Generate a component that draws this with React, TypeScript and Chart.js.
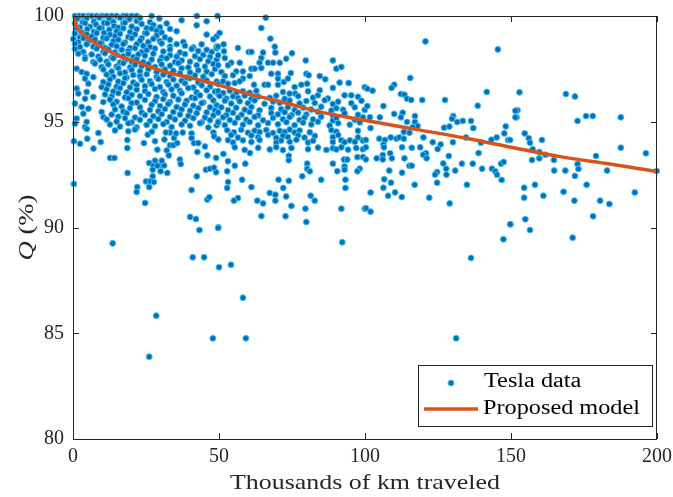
import { useEffect, useRef } from "react";
import { Chart, registerables } from "chart.js";

Chart.register(...registerables);

// Axis ticks and labels
const xTicks = [0, 50, 100, 150, 200];
const yTicks = [80, 85, 90, 95, 100];
const xTitle = "Thousands of km traveled";
const yTitleSymbol = "Q";
const yTitleUnit = " (%)";
const legendLabels = ["Tesla data", "Proposed model"];

// Proposed capacity-fade model: Q (%) vs thousands of km
const modelKm = [0, 1, 2.5, 4.7, 10.4, 16.1, 21.8, 27.5, 33.2, 38.9, 44.6, 50.3, 61.1, 72.5, 83.9, 95.3, 100.3, 117.5, 134.6, 151.7, 166.8, 183.9, 200];
const modelQ = [100, 99.55, 99.28, 99.0, 98.49, 98.09, 97.83, 97.54, 97.3, 97.12, 96.93, 96.72, 96.28, 95.9, 95.49, 95.18, 95.06, 94.64, 94.22, 93.75, 93.35, 93.0, 92.65];

// Tesla fleet measurements [thousands of km, Q (%)], grouped by mileage
const tesla0to50: [number, number][] = [
  [0.68, 100], [2.17, 100], [3.54, 100], [5.25, 100], [6.39, 100], [8.1, 100], [9.81, 100], [11.53, 100], [13.24, 100], [14.95, 100],
  [17.23, 100], [18.38, 100], [20.09, 100], [21.8, 100], [26.94, 100], [37.2, 99.8], [42.4, 100], [49.5, 100],
  [1.48, 99.88], [3.31, 99.7], [4.68, 99.9], [7.19, 99.74], [9.02, 99.93], [10.61, 99.68], [12.44, 99.86], [13.81, 99.72], [16.09, 99.92],
  [17.23, 99.66], [19.29, 99.85], [21.8, 99.76], [22.94, 99.91], [26.37, 99.71], [29.56, 99.88],
  [0.68, 99.64], [2.39, 99.46], [4.11, 99.67], [5.82, 99.49], [7.87, 99.6], [9.81, 99.43], [11.76, 99.66], [14.04, 99.53], [15.52, 99.45],
  [17.81, 99.69], [20.09, 99.5], [23.51, 99.62], [25.23, 99.42], [27.51, 99.58], [29.79, 99.47], [32.07, 99.65], [42.35, 99.56], [45.77, 99.75],
  [1.25, 99.41], [2.97, 99.22], [4.91, 99.38], [7.19, 99.25], [9.02, 99.43], [10.61, 99.2], [12.44, 99.35], [14.95, 99.28], [17.23, 99.42],
  [19.52, 99.24], [21.8, 99.37], [24.65, 99.19], [26.94, 99.41], [28.65, 99.3], [30.36, 99.22], [33.22, 99.39], [35.5, 99.28],
  [0.68, 99.17], [2.39, 98.99], [4.68, 99.14], [6.39, 99.03], [8.1, 99.19], [10.39, 98.97], [12.67, 99.12], [14.38, 99.05], [16.09, 99.16],
  [18.95, 99.01], [21.23, 99.13], [23.51, 98.95], [25.23, 99.18], [28.65, 99.07], [31.5, 98.99], [45.77, 99.12], [49.2, 99.03],
  [0.11, 98.91], [1.82, 98.76], [3.54, 98.95], [5.25, 98.78], [7.53, 98.89], [9.81, 98.73], [11.53, 98.94], [13.81, 98.81], [15.52, 98.88],
  [17.81, 98.75], [20.09, 98.95], [22.94, 98.83], [25.8, 98.77], [27.51, 98.92], [29.79, 98.81], [33.22, 98.88], [37.78, 98.77], [48.06, 98.9],
  [0.68, 98.69], [2.39, 98.53], [4.68, 98.66], [6.96, 98.55], [9.24, 98.71], [10.96, 98.5], [13.24, 98.64], [14.95, 98.57], [17.23, 98.68],
  [19.52, 98.49], [21.8, 98.66], [24.08, 98.59], [26.37, 98.53], [30.36, 98.7], [33.22, 98.55], [35.5, 98.67], [38.35, 98.59], [41.21, 98.51],
  [44.06, 98.66], [49.2, 98.56],
  [0.68, 98.44], [3.54, 98.3], [8.1, 98.46], [10.39, 98.31], [12.1, 98.42], [14.38, 98.28], [16.66, 98.4], [18.95, 98.34], [21.23, 98.48],
  [23.51, 98.29], [25.23, 98.38], [28.08, 98.46], [30.93, 98.32], [33.22, 98.42], [36.64, 98.28], [40.64, 98.44], [42.92, 98.34], [45.77, 98.4],
  [47.49, 98.3], [49.2, 98.47],
  [1.82, 98.22], [4.11, 98.06], [6.39, 98.18], [8.67, 98.08], [10.96, 98.24], [13.24, 98.04], [14.95, 98.16], [17.23, 98.1], [18.95, 98.2],
  [20.66, 98.06], [22.37, 98.18], [24.65, 98.12], [27.51, 98.22], [30.36, 98.04], [33.22, 98.14], [35.5, 98.08], [38.35, 98.2], [41.78, 98.1],
  [44.63, 98.16], [46.92, 98.06],
  [4.11, 97.98], [6.96, 97.82], [9.24, 97.94], [11.53, 97.84], [13.81, 98.0], [16.09, 97.8], [17.81, 97.92], [20.09, 97.86], [21.8, 97.96],
  [24.08, 97.82], [26.94, 97.94], [29.79, 97.88], [32.07, 98.0], [34.93, 97.82], [37.21, 97.9], [40.07, 97.84], [43.49, 97.96], [46.34, 97.86],
  [49.2, 97.94],
  [7.53, 97.75], [9.81, 97.59], [12.1, 97.71], [14.95, 97.61], [17.23, 97.77], [19.52, 97.57], [21.23, 97.69], [23.51, 97.63], [25.8, 97.73],
  [28.08, 97.59], [30.36, 97.71], [33.22, 97.65], [36.07, 97.77], [39.5, 97.57], [42.35, 97.67], [45.2, 97.61], [48.06, 97.73],
  [1.25, 97.51], [2.97, 97.35], [10.39, 97.47], [13.24, 97.37], [15.52, 97.53], [17.81, 97.33], [20.09, 97.45], [22.94, 97.39], [25.8, 97.49],
  [28.65, 97.35], [31.5, 97.47], [34.36, 97.41], [37.21, 97.53], [40.07, 97.33], [42.92, 97.43], [45.77, 97.37], [48.63, 97.49],
  [4.68, 97.27], [6.96, 97.11], [11.53, 97.23], [13.81, 97.13], [16.09, 97.29], [18.38, 97.09], [20.66, 97.21], [22.94, 97.15], [25.23, 97.25],
  [28.65, 97.11], [30.93, 97.23], [33.22, 97.17], [36.64, 97.29], [38.92, 97.09], [41.78, 97.19], [44.63, 97.13], [47.49, 97.25],
  [4.11, 97.04], [10.39, 96.88], [12.67, 97.0], [15.52, 96.9], [17.81, 97.06], [20.66, 96.86], [23.51, 96.98], [26.37, 96.92], [29.22, 97.02],
  [32.07, 96.88], [34.36, 97.0], [37.21, 96.94], [40.07, 97.06], [42.92, 96.86], [45.77, 96.96], [49.2, 96.9],
  [5.25, 96.8], [9.81, 96.64], [12.1, 96.76], [14.95, 96.66], [17.23, 96.82], [19.52, 96.62], [21.8, 96.74], [24.65, 96.68], [26.94, 96.78],
  [29.79, 96.64], [32.65, 96.76], [35.5, 96.7], [38.35, 96.82], [41.21, 96.62], [44.06, 96.72], [46.92, 96.66], [49.77, 96.78],
  [1.25, 96.57], [4.68, 96.41], [11.53, 96.53], [13.81, 96.43], [16.09, 96.59], [18.38, 96.39], [21.8, 96.51], [24.65, 96.45], [28.08, 96.55],
  [30.93, 96.41], [33.79, 96.53], [36.64, 96.47], [39.5, 96.59], [42.35, 96.39], [45.77, 96.49], [48.63, 96.43],
  [1.82, 96.33], [6.96, 96.17], [10.96, 96.29], [13.24, 96.19], [15.52, 96.35], [17.81, 96.15], [20.09, 96.27], [22.94, 96.21], [25.8, 96.31],
  [28.65, 96.17], [31.5, 96.29], [34.36, 96.23], [37.21, 96.35], [40.64, 96.15], [43.49, 96.25], [46.92, 96.19], [49.77, 96.31],
  [4.11, 96.09], [10.39, 95.93], [12.67, 96.05], [14.95, 95.95], [18.95, 96.11], [21.8, 95.91], [24.65, 96.03], [28.08, 95.97], [30.93, 96.07],
  [33.22, 95.93], [36.07, 96.05], [38.92, 95.99], [41.78, 96.11], [44.63, 95.91], [48.06, 96.01],
  [0.68, 95.86], [2.97, 95.7], [13.81, 95.82], [16.66, 95.72], [20.09, 95.88], [22.94, 95.68], [26.94, 95.8], [29.79, 95.74], [32.65, 95.84],
  [35.5, 95.7], [38.35, 95.82], [41.21, 95.76], [44.06, 95.88], [46.92, 95.68], [49.2, 95.78],
  [5.25, 95.62], [9.81, 95.46], [14.38, 95.58], [17.23, 95.48], [19.52, 95.64], [23.51, 95.44], [26.37, 95.56], [29.22, 95.5], [31.5, 95.6],
  [34.36, 95.46], [37.21, 95.58], [40.07, 95.52], [42.92, 95.64], [45.77, 95.44], [48.63, 95.54],
  [3.54, 95.38], [10.39, 95.22], [13.24, 95.34], [15.52, 95.24], [18.38, 95.4], [21.23, 95.2], [24.65, 95.32], [27.51, 95.26], [30.36, 95.36],
  [33.22, 95.22], [36.64, 95.34], [39.5, 95.28], [42.35, 95.4], [45.2, 95.2], [48.06, 95.3],
  [1.25, 95.15], [4.68, 94.99], [11.53, 95.11], [14.95, 95.01], [17.81, 95.17], [20.09, 94.97], [22.94, 95.09], [26.37, 95.03], [29.22, 95.13],
  [32.07, 94.99], [34.93, 95.11], [38.35, 95.05], [41.21, 95.17], [44.06, 94.97], [46.92, 95.07], [49.77, 95.01],
  [0.68, 94.91], [4.11, 94.75], [12.67, 94.87], [16.09, 94.77], [18.95, 94.93], [21.8, 94.73], [25.23, 94.85], [28.08, 94.79], [30.93, 94.89],
  [33.79, 94.75], [37.21, 94.87], [40.07, 94.81], [43.49, 94.93], [46.34, 94.73], [49.2, 94.83],
  [14.38, 94.59], [18.95, 94.55], [21.23, 94.63],
  [4.7, 94.66], [8.7, 94.47], [0.3, 94.08], [2.4, 93.96], [4.9, 94.2], [9.5, 94.04], [7.0, 93.73], [12.7, 93.29], [14.2, 93.29],
  [18.6, 94.14], [18.6, 93.76], [24.3, 93.99], [25.6, 94.39], [27.0, 94.53], [28.1, 94.08], [28.9, 93.68], [31.3, 94.16], [32.1, 93.64],
  [32.8, 93.41], [33.2, 93.89], [34.4, 93.89], [35.7, 93.99], [34.6, 94.23], [33.2, 94.49], [35.3, 94.45], [31.8, 94.49], [37.6, 94.49],
  [40.6, 94.45], [40.6, 94.23], [41.4, 93.99], [42.9, 93.99], [45.2, 93.83], [48.1, 94.49], [48.3, 94.31], [49.8, 94.16], [42.6, 93.57],
  [46.0, 93.41], [49.0, 93.29], [26.1, 93.05], [28.1, 93.16], [29.6, 92.94], [27.5, 92.92], [28.9, 92.92], [31.2, 92.93], [30.4, 93.16],
  [27.3, 92.73], [30.0, 92.66], [32.3, 92.58], [36.6, 93.21], [36.9, 93.0], [18.7, 92.58], [27.3, 92.42], [25.0, 92.18], [26.4, 92.18],
  [27.7, 92.15], [26.1, 91.91], [22.0, 91.91], [21.8, 91.68], [24.7, 91.16], [0.3, 92.06], [42.4, 92.42], [40.6, 91.77], [45.5, 92.73],
  [46.9, 92.78], [49.0, 92.61], [48.3, 92.83], [46.0, 91.32], [46.7, 91.43], [40.1, 90.5], [42.1, 90.4], [43.3, 89.88], [49.8, 90.01],
  [13.6, 89.25], [41.0, 88.59], [44.9, 88.59], [47.9, 84.76], [28.5, 85.83], [26.1, 83.89],
];

const tesla50to100: [number, number][] = [
  [50.0, 88.12], [54.1, 88.24], [58.2, 86.68], [59.2, 84.76],
  [66.0, 99.92], [64.5, 99.43], [50.2, 99.2], [67.6, 98.93], [51.6, 98.66], [49.7, 98.55], [56.5, 98.49], [69.1, 98.55], [60.2, 98.3],
  [61.1, 98.3], [65.1, 98.27], [69.3, 98.27], [75.0, 98.24], [51.7, 98.33], [64.5, 98.01], [73.0, 97.98], [79.7, 97.9], [89.0, 97.9],
  [49.7, 98.14], [52.0, 98.01], [54.2, 97.79], [57.1, 97.79], [63.9, 97.79], [66.8, 97.79], [68.5, 97.79], [70.8, 97.79], [49.7, 97.67],
  [53.1, 97.67], [90.2, 97.51], [91.9, 97.59], [61.1, 97.51], [62.2, 97.51], [55.9, 97.38], [58.2, 97.38], [64.5, 97.54], [67.9, 97.27],
  [70.2, 97.27], [74.6, 97.3], [79.9, 97.27], [80.7, 97.2], [84.5, 97.16], [86.4, 97.01], [50.8, 97.35], [52.0, 97.16], [54.8, 97.2],
  [58.2, 97.04], [60.5, 97.16], [70.2, 97.04], [72.2, 96.88], [73.6, 97.04], [78.2, 96.75], [80.2, 96.8], [65.6, 96.75], [66.8, 96.75],
  [70.2, 96.75], [75.9, 96.64], [84.5, 96.49], [89.0, 96.6], [91.3, 96.85], [94.4, 96.83], [93.0, 96.25], [95.3, 96.25], [99.9, 96.63],
  [51.4, 96.91], [53.1, 96.8], [55.4, 96.83], [57.1, 96.91], [62.0, 96.75], [80.5, 96.44], [71.9, 96.41], [74.2, 96.33], [76.1, 96.33],
  [49.7, 96.45], [51.4, 96.36], [53.7, 96.47], [55.9, 96.34], [58.2, 96.44], [60.5, 96.37], [62.8, 96.46],
  [50.2, 96.22], [52.5, 96.1], [54.8, 96.2], [56.5, 96.12], [58.8, 96.24], [61.1, 96.08], [63.4, 96.19], [67.4, 96.13], [69.6, 96.23],
  [72.5, 96.09], [77.1, 96.21], [82.2, 96.14], [83.9, 96.25], [87.3, 96.1], [97.6, 96.18],
  [52.0, 95.99], [54.2, 95.86], [57.1, 95.97], [59.9, 95.88], [62.2, 96.01], [65.6, 95.85], [68.5, 95.96], [70.8, 95.9], [74.2, 96.0],
  [77.6, 95.86], [79.9, 95.98], [82.8, 95.89], [86.2, 96.02], [89.0, 95.84], [90.8, 95.95], [95.3, 95.88], [98.8, 95.99],
  [50.8, 95.68], [53.1, 95.55], [55.9, 95.66], [58.8, 95.57], [61.1, 95.7], [63.9, 95.54], [67.9, 95.65], [71.3, 95.59], [73.6, 95.69],
  [75.9, 95.55], [78.8, 95.67], [81.6, 95.58], [85.0, 95.71], [88.5, 95.53], [90.2, 95.64], [92.5, 95.57], [96.5, 95.68], [99.9, 95.56],
  [49.7, 95.44], [52.5, 95.31], [54.8, 95.42], [57.7, 95.33], [60.5, 95.46], [63.4, 95.3], [67.9, 95.41], [70.2, 95.35], [72.5, 95.45],
  [74.8, 95.31], [77.1, 95.43], [79.9, 95.34], [83.9, 95.47], [89.0, 95.29], [93.0, 95.4], [97.6, 95.33],
  [51.4, 95.21], [53.7, 95.08], [56.5, 95.19], [59.4, 95.1], [62.2, 95.23], [65.1, 95.07], [68.5, 95.18], [71.9, 95.12], [74.2, 95.22],
  [77.6, 95.08], [79.3, 95.2], [82.2, 95.11], [85.0, 95.24], [89.0, 95.06], [90.2, 95.17], [96.5, 95.1], [99.3, 95.21],
  [49.7, 94.97], [52.0, 94.84], [55.4, 94.95], [58.2, 94.86], [60.5, 94.99], [63.4, 94.83], [66.8, 94.94], [70.2, 94.88], [73.1, 94.98],
  [75.9, 94.84], [78.8, 94.96], [81.6, 94.87], [83.9, 95.0], [87.9, 94.82], [90.8, 94.93], [94.8, 94.86], [98.2, 94.97],
  [52.8, 94.6], [55.1, 94.5], [57.6, 94.62], [59.9, 94.48], [62.2, 94.58], [63.9, 94.51], [66.2, 94.61], [68.5, 94.47], [70.8, 94.57],
  [72.5, 94.52], [74.2, 94.63], [75.9, 94.49], [77.6, 94.59], [81.1, 94.5], [88.5, 94.6], [90.2, 94.53], [97.6, 94.57],
  [54.2, 94.37], [56.5, 94.25], [61.1, 94.35], [63.4, 94.27], [66.8, 94.38], [69.6, 94.24], [71.9, 94.34], [73.6, 94.28], [77.1, 94.36],
  [79.3, 94.25], [82.8, 94.33], [89.0, 94.27], [90.8, 94.37], [97.6, 94.26],
  [53.1, 94.13], [54.8, 94.02], [58.2, 94.12], [61.1, 94.04], [63.9, 94.14], [69.6, 94.01], [71.3, 94.11], [74.2, 94.05], [76.5, 94.15],
  [80.5, 94.02], [82.2, 94.1], [89.0, 94.04], [91.9, 94.13], [93.0, 94.03], [94.8, 94.12], [96.5, 94.05], [99.3, 94.11],
  [55.4, 93.79], [58.8, 93.67], [63.4, 93.77], [67.4, 93.69], [69.6, 93.8], [71.9, 93.66], [74.8, 93.76], [80.5, 93.7], [83.9, 93.78],
  [86.8, 93.67], [89.0, 93.75], [90.2, 93.69], [91.9, 93.79], [94.2, 93.68], [97.0, 93.76], [99.3, 93.7],
  [60.6, 93.52], [51.5, 93.48], [73.9, 93.39], [73.9, 93.18], [53.1, 93.13], [59.0, 93.02], [55.4, 92.92], [80.2, 93.02], [89.0, 93.02],
  [92.8, 93.21], [93.9, 93.21], [97.4, 93.33], [99.3, 93.33], [80.2, 92.78], [81.1, 92.66], [52.8, 92.66], [90.5, 92.66], [93.0, 92.89],
  [93.0, 92.73], [98.2, 92.78], [97.4, 92.66], [57.9, 92.26], [70.4, 92.26], [73.9, 92.21], [78.5, 92.42], [85.0, 92.26], [93.3, 92.26],
  [53.1, 92.15], [52.8, 91.87], [61.1, 91.91], [72.0, 91.87], [93.3, 91.87], [67.4, 91.63], [69.3, 91.55], [73.0, 91.47], [81.4, 91.5],
  [82.8, 91.27], [56.5, 91.39], [55.1, 91.27], [63.1, 91.27], [65.1, 91.14], [69.3, 91.27], [74.8, 91.02], [79.6, 90.89], [91.9, 90.89],
  [99.9, 90.89], [64.5, 90.54], [72.8, 90.53], [79.9, 90.26], [49.7, 89.98], [92.2, 89.3],
];

const tesla100to150: [number, number][] = [
  [120.7, 98.8], [145.5, 98.42], [115.5, 97.07], [110.0, 96.75], [109.1, 96.6], [100.8, 96.56], [102.6, 96.47], [112.3, 96.31],
  [113.5, 96.28], [114.4, 96.09], [115.8, 96.03], [119.6, 96.03], [127.4, 96.03], [141.7, 96.41], [100.8, 95.74], [106.3, 95.74],
  [138.6, 95.76], [110.0, 95.37], [112.9, 95.43], [112.3, 95.21], [117.1, 95.27], [130.2, 95.27], [129.8, 95.14], [101.7, 95.21],
  [105.1, 95.21], [114.4, 94.99], [117.1, 94.99], [118.0, 94.8], [131.6, 94.99], [133.5, 95.04], [136.3, 95.04], [137.1, 94.7],
  [148.2, 94.78], [147.7, 94.45], [145.1, 94.26], [143.3, 94.15], [149.0, 94.14], [127.1, 94.72], [128.9, 94.77], [101.9, 94.7],
  [116.3, 94.74], [115.2, 94.48], [113.3, 94.52], [104.9, 94.2], [106.8, 94.14], [108.8, 94.26], [110.8, 94.2], [111.8, 94.26],
  [113.3, 94.2], [120.0, 94.26], [123.2, 94.03], [125.9, 93.93], [130.1, 94.03], [134.6, 94.26], [139.7, 94.01], [100.3, 94.14],
  [106.3, 93.92], [106.5, 93.79], [112.7, 93.79], [116.0, 93.77], [118.9, 93.79], [124.9, 93.71], [100.3, 93.79], [108.6, 93.51],
  [106.1, 93.43], [120.9, 93.51], [119.9, 93.44], [138.9, 93.52], [104.0, 93.27], [106.1, 93.22], [109.2, 93.27], [113.5, 93.27],
  [121.1, 93.27], [128.7, 93.38], [100.3, 93.22], [115.2, 92.92], [116.0, 92.92], [126.8, 93.03], [133.2, 93.02], [136.9, 93.02],
  [146.6, 93.02], [147.5, 93.1], [127.8, 92.78], [130.9, 92.69], [140.1, 92.78], [143.5, 92.78], [144.6, 92.66], [108.3, 92.69],
  [112.7, 92.59], [124.7, 92.62], [124.0, 92.5], [127.9, 92.5], [145.2, 92.5], [146.8, 92.25], [106.6, 92.28], [108.9, 92.12],
  [124.7, 92.12], [117.0, 92.02], [134.9, 92.02], [106.3, 91.88], [110.3, 91.66], [101.9, 91.65], [107.9, 91.5], [112.6, 91.44],
  [122.0, 91.41], [129.0, 91.14], [100.3, 90.91], [101.9, 90.75], [149.9, 90.15], [147.4, 89.44], [136.3, 88.56], [131.2, 84.76],
];

const tesla150to200: [number, number][] = [
  [152.9, 96.39], [168.8, 96.31], [171.9, 96.19], [152.2, 95.54], [151.9, 95.21], [151.5, 95.52], [151.5, 95.21], [172.8, 95.04],
  [175.7, 95.27], [178.0, 95.27], [187.6, 95.21], [154.7, 94.45], [156.1, 94.22], [156.5, 94.01], [160.6, 94.14], [157.4, 93.7],
  [159.7, 93.57], [161.8, 93.44], [157.2, 93.19], [159.7, 93.27], [164.7, 93.19], [149.7, 94.14], [179.1, 93.38], [187.6, 93.77],
  [196.2, 93.51], [199.9, 92.67], [172.8, 93.0], [173.1, 92.77], [171.9, 92.44], [164.8, 92.69], [168.6, 92.69], [182.9, 92.69],
  [175.9, 92.02], [154.5, 91.88], [158.2, 92.02], [154.5, 91.41], [161.1, 91.5], [168.0, 91.69], [171.7, 91.27], [180.5, 91.27],
  [183.7, 91.11], [192.4, 91.66], [178.1, 90.53], [154.9, 90.39], [149.7, 90.15], [156.5, 89.88], [171.1, 89.52],
];

const teslaPoints = [...tesla0to50, ...tesla50to100, ...tesla100to150, ...tesla150to200];

const AXIS_COLOR = "#262626";
const DOT_FILL = "#0072BD";
const DOT_EDGE = "#4DBEEE";
const MODEL_COLOR = "#D95319";
const SERIF = "'Liberation Serif', 'Times New Roman', serif";

// Draws text with a horizontal stretch so the Times-like face gets the width of a TeX face.
function drawWide(ctx: CanvasRenderingContext2D, text: string, x: number, y: number, font: string, width: number | null, stretch: number, align: "left" | "center") {
  ctx.save();
  ctx.font = font;
  const natural = ctx.measureText(text).width;
  const sx = width ? width / natural : stretch;
  ctx.translate(x, y);
  ctx.scale(sx, 1);
  ctx.textAlign = align;
  ctx.textBaseline = "middle";
  ctx.fillText(text, 0, 0);
  ctx.restore();
  return natural * sx;
}

const framePlugin = {
  id: "matlabFrame",
  afterDraw(chart: any) {
    const { ctx, chartArea } = chart;
    const { left, right, top, bottom } = chartArea;
    const xs = chart.scales.x;
    const ys = chart.scales.y;
    ctx.save();
    ctx.strokeStyle = AXIS_COLOR;
    ctx.lineWidth = 1;
    ctx.strokeRect(left + 0.5, top + 0.5, right - left - 1, bottom - top);
    const tl = 6;
    ctx.beginPath();
    xTicks.forEach((v) => {
      const px = Math.round(xs.getPixelForValue(v)) + 0.5;
      ctx.moveTo(px, bottom); ctx.lineTo(px, bottom - tl);
      ctx.moveTo(px, top); ctx.lineTo(px, top + tl);
    });
    yTicks.forEach((v) => {
      const py = Math.round(ys.getPixelForValue(v)) + 0.5;
      ctx.moveTo(left, py); ctx.lineTo(left + tl, py);
      ctx.moveTo(right, py); ctx.lineTo(right - tl, py);
    });
    ctx.stroke();

    // legend
    const lx = 418.5, ly = 365.5, lw = 234, lh = 61;
    ctx.fillStyle = "#ffffff";
    ctx.fillRect(lx, ly, lw, lh);
    ctx.strokeRect(lx, ly, lw, lh);
    ctx.beginPath();
    ctx.arc(451, 383, 3, 0, Math.PI * 2);
    ctx.fillStyle = DOT_FILL;
    ctx.fill();
    ctx.strokeStyle = DOT_EDGE;
    ctx.stroke();
    ctx.beginPath();
    ctx.strokeStyle = MODEL_COLOR;
    ctx.lineWidth = 3.5;
    ctx.moveTo(424, 409);
    ctx.lineTo(478, 409);
    ctx.stroke();
    ctx.fillStyle = "#000000";
    const legendFont = `20px ${SERIF}`;
    ctx.font = legendFont;
    const stretch = 157 / ctx.measureText(legendLabels[1]).width;
    drawWide(ctx, legendLabels[0], 484, 382, legendFont, null, stretch, "left");
    drawWide(ctx, legendLabels[1], 483, 409, legendFont, null, stretch, "left");

    // axis titles
    ctx.fillStyle = AXIS_COLOR;
    drawWide(ctx, xTitle, (left + right) / 2, 483, `22px ${SERIF}`, 270, 1, "center");

    ctx.save();
    ctx.translate(27, (top + bottom) / 2);
    ctx.rotate(-Math.PI / 2);
    ctx.scale(stretch, 1);
    const symFont = `italic 22px ${SERIF}`;
    const unitFont = `22px ${SERIF}`;
    ctx.font = symFont;
    const w1 = ctx.measureText(yTitleSymbol).width;
    ctx.font = unitFont;
    const w2 = ctx.measureText(yTitleUnit).width;
    const start = -(w1 + w2) / 2;
    ctx.textBaseline = "middle";
    ctx.textAlign = "left";
    ctx.font = symFont;
    ctx.fillText(yTitleSymbol, start, 0);
    ctx.font = unitFont;
    ctx.fillText(yTitleUnit, start + w1, 0);
    ctx.restore();
    ctx.restore();
  },
};

export default function App() {
  const canvasRef = useRef<HTMLCanvasElement | null>(null);

  useEffect(() => {
    const canvas = canvasRef.current;
    if (!canvas) return;
    const tickFont = { family: SERIF, size: 20 };
    const chart = new Chart(canvas, {
      type: "scatter",
      data: {
        datasets: [
          {
            type: "line",
            label: legendLabels[1],
            data: modelKm.map((x, i) => ({ x, y: modelQ[i] })),
            borderColor: MODEL_COLOR,
            borderWidth: 3.5,
            pointRadius: 0,
            fill: false,
            cubicInterpolationMode: "monotone",
            order: 0,
          } as any,
          {
            type: "scatter",
            label: legendLabels[0],
            data: teslaPoints.map(([x, y]) => ({ x, y })),
            backgroundColor: DOT_FILL,
            borderColor: DOT_EDGE,
            borderWidth: 1,
            pointRadius: 3,
            clip: false,
            order: 1,
          } as any,
        ],
      },
      options: {
        animation: false,
        responsive: false,
        devicePixelRatio: 1,
        layout: { padding: { top: 16, right: 16, left: 0, bottom: 0 } },
        plugins: { legend: { display: false }, tooltip: { enabled: false } },
        scales: {
          x: {
            type: "linear",
            min: 0,
            max: 200,
            afterBuildTicks: (s: any) => { s.ticks = xTicks.map((v) => ({ value: v })); },
            grid: { display: false, drawTicks: false },
            border: { display: false },
            ticks: { font: tickFont, color: AXIS_COLOR, padding: 6, maxRotation: 0 },
            afterFit: (s: any) => { s.height = 58; s.paddingLeft = 0; s.paddingRight = 0; },
          },
          y: {
            type: "linear",
            min: 80,
            max: 100,
            afterBuildTicks: (s: any) => { s.ticks = yTicks.map((v) => ({ value: v })); },
            grid: { display: false, drawTicks: false },
            border: { display: false },
            ticks: { font: tickFont, color: AXIS_COLOR, padding: 9 },
            afterFit: (s: any) => { s.width = 73; s.paddingTop = 0; s.paddingBottom = 0; },
          },
        },
      },
      plugins: [framePlugin],
    });
    return () => chart.destroy();
  }, []);

  return (
    <div style={{ position: "absolute", left: 0, top: 0, width: 673, height: 497, background: "#ffffff" }}>
      <canvas ref={canvasRef} width={673} height={497} />
    </div>
  );
}
